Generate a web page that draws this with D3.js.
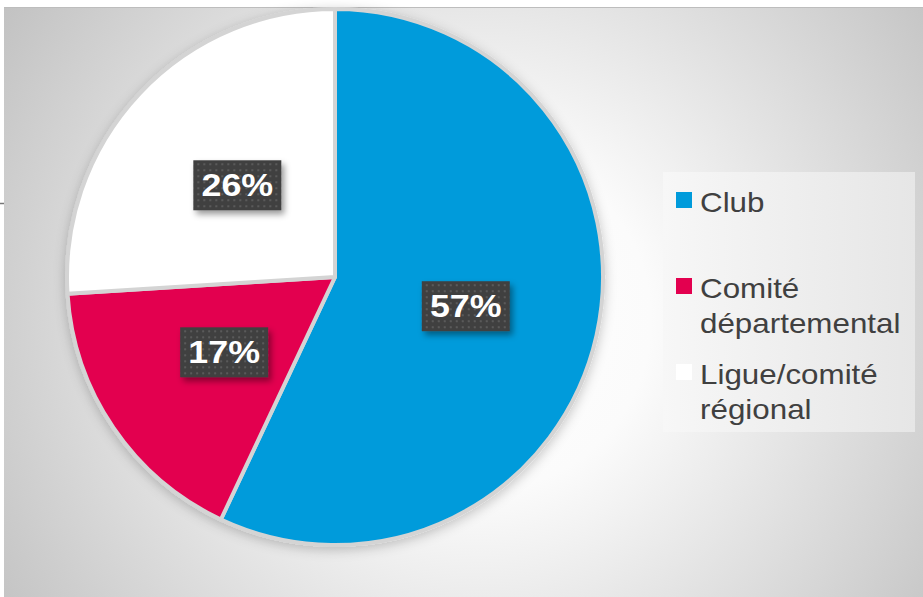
<html>
<head>
    <meta charset="utf-8" />
    <script src="https://d3js.org/d3.v7.min.js"></script>
    <style>
        body { margin: 0; font-family: Arial, "Liberation Sans", sans-serif; }
    </style>
</head>
<body>
    <svg id="pie" width="923" height="597"></svg>
    <script>
        const categories = ["Club", "Comité départemental", "Ligue/comité régional"]
        const values = [57, 17, 26]
        const legendLines = [["Club"], ["Comité", "départemental"], ["Ligue/comité", "régional"]]
        const colors = ["#009bdb", "#e3004f", "#ffffff"]

        const svg = d3.select("svg#pie")
        const defs = svg.append("defs")

        const bg = defs.append("radialGradient").attr("id", "bg")
            .attr("gradientUnits", "userSpaceOnUse")
            .attr("cx", 480).attr("cy", 320).attr("r", 570)
        bg.append("stop").attr("offset", "0%").attr("stop-color", "#ffffff")
        bg.append("stop").attr("offset", "30%").attr("stop-color", "#fbfbfb")
        bg.append("stop").attr("offset", "100%").attr("stop-color", "#c2c2c2")

        const lg = defs.append("linearGradient").attr("id", "legbg")
        lg.append("stop").attr("offset", "0%").attr("stop-color", "#f7f7f7")
        lg.append("stop").attr("offset", "100%").attr("stop-color", "#e6e6e6")

        const pat = defs.append("pattern").attr("id", "dots")
            .attr("width", 6).attr("height", 6).attr("patternUnits", "userSpaceOnUse")
        pat.append("rect").attr("width", 6).attr("height", 6).attr("fill", "#404040")
        pat.append("rect").attr("x", 2).attr("y", 2).attr("width", 2).attr("height", 2).attr("fill", "#5a5a5a")

        const sh = defs.append("filter").attr("id", "shadow")
            .attr("x", "-20%").attr("y", "-20%").attr("width", "140%").attr("height", "140%")
        sh.append("feDropShadow").attr("dx", 0).attr("dy", 3).attr("stdDeviation", 6)
            .attr("flood-color", "#000").attr("flood-opacity", 0.22)

        const boxSh = defs.append("filter").attr("id", "boxshadow")
            .attr("x", "-30%").attr("y", "-30%").attr("width", "160%").attr("height", "170%")
        boxSh.append("feDropShadow").attr("dx", 3).attr("dy", 4).attr("stdDeviation", 3)
            .attr("flood-color", "#000").attr("flood-opacity", 0.4)

        svg.append("rect").attr("x", 4).attr("y", 7).attr("width", 919).attr("height", 590)
            .attr("fill", "url(#bg)")
        svg.append("line").attr("x1", 4).attr("x2", 923).attr("y1", 7.5).attr("y2", 7.5)
            .attr("stroke", "#bdbdbd").attr("stroke-width", 1)
        svg.append("line").attr("x1", 0).attr("x2", 4).attr("y1", 203.5).attr("y2", 203.5)
            .attr("stroke", "#777").attr("stroke-width", 1.5)

        const cx = 335, cy = 277, radius = 268
        const stretch = 1.12   // text in the original is a bit wider than Arial

        const pie = d3.pie().sort(null).value(d => d)
        const arc = d3.arc().innerRadius(0).outerRadius(radius)
        const arcs = pie(values)

        const pieG = svg.append("g").attr("transform", `translate(${cx}, ${cy})`)
        pieG.append("g").attr("filter", "url(#shadow)")
            .selectAll("path").data(arcs)
            .join("path")
            .attr("d", arc)
            .attr("fill", (d, i) => colors[i])
            .attr("stroke", "#d4d4d4")
            .attr("stroke-width", 4)
            .attr("stroke-linejoin", "round")

        const labels = pieG.selectAll("g.lab").data(arcs)
            .join("g").attr("class", "lab")
            .attr("transform", d => `translate(${arc.centroid(d)})`)
        labels.append("rect")
            .attr("x", -44).attr("y", -25).attr("width", 88).attr("height", 50)
            .attr("fill", "url(#dots)").attr("filter", "url(#boxshadow)")
        labels.append("text")
            .attr("transform", `scale(${stretch},1)`)
            .attr("text-anchor", "middle").attr("y", 11)
            .attr("font-size", 32).attr("font-weight", "bold").attr("fill", "#fff")
            .text(d => d.data + "%")

        // legend
        const legend = svg.append("g")
        legend.append("rect").attr("x", 663).attr("y", 172).attr("width", 252).attr("height", 260)
            .attr("fill", "url(#legbg)")
        const itemY = [200, 286, 372]
        const item = legend.selectAll("g.item").data(categories)
            .join("g").attr("class", "item")
            .attr("transform", (d, i) => `translate(676, ${itemY[i]})`)
        item.append("rect").attr("x", 0).attr("y", -8).attr("width", 16).attr("height", 16)
            .attr("fill", (d, i) => colors[i])
        item.append("text")
            .attr("transform", `translate(24,0) scale(${stretch},1)`)
            .attr("fill", "#404040").attr("font-size", 28)
            .selectAll("tspan").data((d, i) => legendLines[i])
            .join("tspan")
            .attr("x", 0).attr("y", (d, j) => j * 35 + 12)
            .text(d => d)
    </script>
</body>
</html>
